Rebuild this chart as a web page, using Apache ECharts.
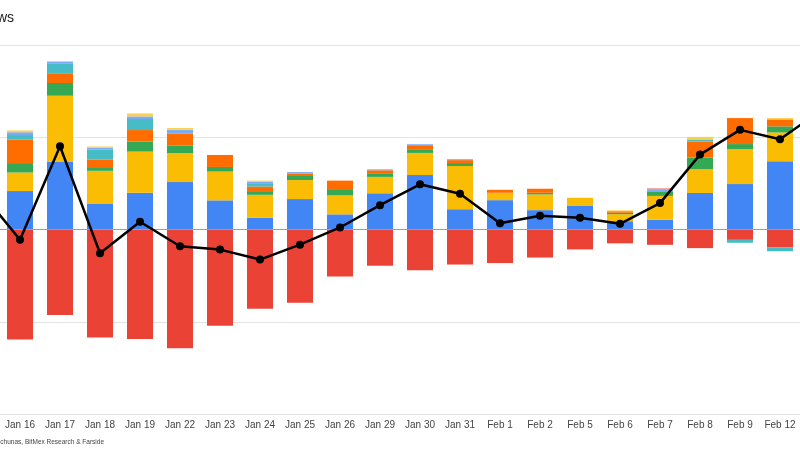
<!DOCTYPE html>
<html>
<head>
<meta charset="utf-8">
<script src="https://cdn.jsdelivr.net/npm/echarts@6/dist/echarts.min.js"></script>
<style>
html,body{margin:0;padding:0;background:#fff;}
#chart{width:800px;height:450px;}
</style>
</head>
<body>
<div id="chart"></div>
<script>
// Categories (first two and last are outside the visible window of the reference crop)
var categories = ['Jan 11','Jan 12','Jan 16','Jan 17','Jan 18','Jan 19','Jan 22','Jan 23','Jan 24','Jan 25','Jan 26','Jan 29','Jan 30','Jan 31','Feb 1','Feb 2','Feb 5','Feb 6','Feb 7','Feb 8','Feb 9','Feb 12','Feb 13'];
var firstVisible = 'Jan 16';
var lastVisible = 'Feb 12';

// US$ millions per fund
var blackrock  = [112, 386, 208, 366, 141, 199, 257, 158,  63, 165,  82, 196, 295, 110, 159, 105, 130,  45,  53, 198, 246, 370, 493];
var grayscale  = [-95,-484,-596,-464,-585,-594,-643,-522,-429,-397,-255,-196,-221,-190,-182,-152,-108, -75, -83,-101, -56, -96, -73];
var fidelity   = [227, 195, 101, 359, 177, 223, 157, 156, 125, 103, 103,  89, 120, 234,  40,  85,  42,  38, 129, 130, 190, 156, 150];
var ark        = [238,  24,  51,  69,  20,  54,  42,  25,  20,  22,  29,  20,  20,  16,   0,   9,   0,   8,  25,  62,  27,  33,  30];
var bitwise    = [ 65,  35, 127,  53,  42,  63,  65,  65,  25,  14,  51,  16,  18,  16,  16,  22,   0,   8,   0,  87, 141,  38,  20];
var invesco    = [ 17,   3,  25,  54,  54,  60,   0,   0,  14,   0,   0,   0,   5,   0,   0,   0,   0,   0,   0,  11, -16, -22,   5];
var franklin   = [ 50,   0,  15,   7,   9,  14,  20,   0,  11,   7,   0,   5,   4,   5,   0,   0,   0,   0,   9,   0,   0,   0,   5];
var valkyrie   = [  0,   0,   0,   0,   0,   0,   0,   0,   0,   0,   0,   0,   0,   0,   0,   0,   0,   0,   7,   0,   0,   0,   0];
var vaneck     = [ 11,   3,  10,   5,   7,  16,   9,   0,   7,   0,   0,   0,   0,   0,   0,   0,   0,   5,   0,  14,   0,   7,   0];
var wisdomtree = [  0,   0,   0,   0,   0,   0,   0,   0,   0,   0,   0,   0,   0,   0,   0,   0,   0,   0,   0,   0,   0,   0,   0];

// Net total flow (line)
var netFlow    = [655, 210, -56, 451,-129,  42, -91,-109,-163, -82,  11, 132, 245, 194,  34,  74,  64,  31, 143, 406, 540, 489, 640];

var yTicks = { min: -1000, max: 1000, interval: 500 };

var fundNames  = ['Blackrock','Grayscale','Fidelity','Ark','Bitwise','Invesco','Franklin','Valkyrie','VanEck','WisdomTree'];
var fundData   = [blackrock, grayscale, fidelity, ark, bitwise, invesco, franklin, valkyrie, vaneck, wisdomtree];
var fundColors = ['#4285F4','#EA4335','#FBBC04','#34A853','#FF6D01','#46BDC6','#7BAAF7','#F07B72','#FCD04F','#71C287'];

var series = fundNames.map(function(n, i){
  var s = {
    name: n, type: 'bar', stack: 'flows', data: fundData[i],
    barWidth: 26,
    itemStyle: { color: fundColors[i] },
    emphasis: { disabled: true }
  };
  if (i === 0) {
    s.markLine = {
      silent: true, symbol: 'none', label: { show: false },
      lineStyle: { color: '#9e9e9e', width: 1, type: 'solid' },
      data: [{ yAxis: 0 }]
    };
  }
  return s;
});
series.push({
  name: 'Net', type: 'line', data: netFlow,
  symbol: 'circle', symbolSize: 8,
  lineStyle: { color: '#000', width: 2.5 },
  itemStyle: { color: '#000' },
  clip: true,
  z: 10
});

var chart = echarts.init(document.getElementById('chart'), null, { renderer: 'canvas' });
chart.setOption({
  animation: false,
  backgroundColor: '#fff',
  textStyle: { fontFamily: '"Liberation Sans", Arial, sans-serif' },
  grid: { left: 0, right: 0, top: 45, bottom: 36, containLabel: false },
  xAxis: {
    type: 'category', data: categories,
    min: categories.indexOf(firstVisible), max: categories.indexOf(lastVisible),
    axisLine: { show: false, onZero: false },
    axisTick: { show: false },
    axisLabel: { color: '#444', fontSize: 10, margin: 6, interval: 0, fontFamily: '"Liberation Sans", Arial, sans-serif' }
  },
  yAxis: {
    type: 'value', min: yTicks.min, max: yTicks.max, interval: yTicks.interval,
    axisLabel: { show: false },
    axisLine: { show: false }, axisTick: { show: false },
    splitLine: { lineStyle: { color: '#e3e3e3', width: 1 } }
  },
  graphic: [
    { type: 'text', x: 14, y: 18,
      style: { text: 'US Bitcoin ETF flows', textAlign: 'right', textVerticalAlign: 'middle',
               fill: '#222', font: '14px "Liberation Sans", Arial, sans-serif' } },
    { type: 'text', x: 104, y: 442,
      style: { text: 'Source: Bloomberg, Eric Balchunas, BitMex Research & Farside', textAlign: 'right', textVerticalAlign: 'middle',
               fill: '#444', font: '6.5px "Liberation Sans", Arial, sans-serif' } }
  ],
  series: series
});
</script>
</body>
</html>
